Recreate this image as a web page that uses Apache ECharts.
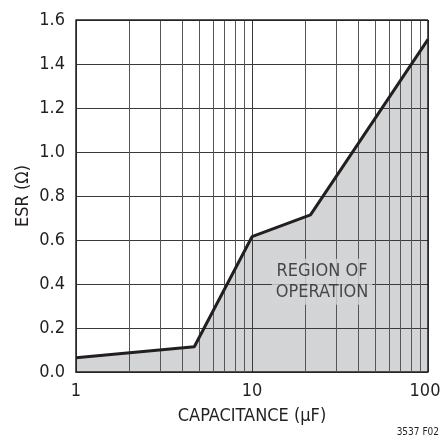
<!DOCTYPE html>
<html>
<head>
<meta charset="utf-8">
<script src="https://cdn.jsdelivr.net/npm/echarts@6/dist/echarts.min.js"></script>
<style>
  html, body { margin: 0; padding: 0; background: #fff; }
  #chart { width: 441px; height: 437px; }
</style>
</head>
<body>
<div id="chart"></div>
<script>
// ESR vs capacitance, region of operation
var capValues = [1, 4.7, 10, 21.5, 100];
var esrValues = [0.065, 0.115, 0.615, 0.714, 1.512];
var minorX = [2, 3, 4, 5, 6, 7, 8, 9, 20, 30, 40, 50, 60, 70, 80, 90];
var xTicks = [1, 10, 100];
var regionLabel = ["REGION OF", "OPERATION"];
var regionAt = [25, 0.41];

var font = "'Liberation Sans Narrow', 'DejaVu Sans Condensed', sans-serif";
var fill = "#d3d4d6";
var ink = "#231f20";

var chart = echarts.init(document.getElementById("chart"));

var curveData = capValues.map(function (c, i) {
  return [c, esrValues[i]];
});

var option = {
  animation: false,
  grid: {
    left: 76,
    right: 13,
    top: 20,
    bottom: 65,
    show: false,
    outerBoundsMode: "none",
    containLabel: false
  },
  xAxis: {
    type: "log",
    logBase: 10,
    min: 1,
    max: 100,
    z: 3,
    name: "CAPACITANCE (\u00b5F)",
    nameLocation: "middle",
    nameGap: 35,
    nameMoveOverlap: false,
    nameTextStyle: { fontFamily: font, fontSize: 18, color: ink },
    axisLine: { show: true, lineStyle: { color: ink, width: 1.5 } },
    axisTick: { show: false },
    axisLabel: {
      fontFamily: font,
      fontSize: 18,
      color: ink,
      margin: 10,
      formatter: function (v) {
        var n = Math.round(v);
        if (xTicks.indexOf(n) < 0) return "";
        // last label sits against the page edge
        return n === xTicks[xTicks.length - 1] ? "{e|" + n + "}" : String(n);
      },
      rich: {
        e: { fontFamily: font, fontSize: 18, color: ink, padding: [0, 6, 0, 0] }
      }
    },
    splitLine: { show: true, lineStyle: { color: "#3a3a3a", width: 1 } }
  },
  yAxis: {
    type: "value",
    min: 0,
    max: 1.6,
    interval: 0.2,
    z: 3,
    name: "ESR (\u03a9)",
    nameLocation: "middle",
    nameGap: 44,
    nameMoveOverlap: false,
    nameTextStyle: { fontFamily: font, fontSize: 18, color: ink },
    axisLine: { show: true, lineStyle: { color: ink, width: 1.5 } },
    axisTick: { show: false },
    axisLabel: {
      fontFamily: font,
      fontSize: 18,
      color: ink,
      margin: 11,
      formatter: function (v) { return v.toFixed(1); }
    },
    splitLine: { show: true, lineStyle: { color: "#3a3a3a", width: 1 } }
  },
  series: [
    {
      // gray region under the curve, plus minor grid lines and frame
      type: "line",
      z: 2,
      data: curveData,
      symbol: "none",
      lineStyle: { width: 0, opacity: 0 },
      areaStyle: { color: fill, opacity: 1 },
      markLine: {
        silent: true,
        symbol: "none",
        label: { show: false },
        lineStyle: { color: "#555", width: 1, type: "solid" },
        data: minorX.map(function (v) { return { xAxis: v }; }).concat([
          { xAxis: 100, lineStyle: { color: ink, width: 1.5 } },
          { yAxis: 1.6, lineStyle: { color: ink, width: 1.5 } }
        ])
      }
    },
    {
      type: "line",
      z: 10,
      data: curveData,
      symbol: "none",
      lineStyle: { color: ink, width: 3 }
    },
    {
      type: "scatter",
      z: 20,
      symbolSize: 0,
      data: [regionAt],
      label: {
        show: true,
        position: "inside",
        formatter: regionLabel.join("\n"),
        fontFamily: font,
        fontSize: 18,
        lineHeight: 21,
        color: ink,
        backgroundColor: fill,
        padding: [2, 4, 2, 4]
      }
    }
  ],
  graphic: [
    {
      type: "text",
      right: 2,
      bottom: 0,
      style: {
        text: "3537 F02",
        fontFamily: font,
        fontSize: 10,
        fill: ink
      }
    }
  ]
};

chart.setOption(option);
</script>
</body>
</html>
